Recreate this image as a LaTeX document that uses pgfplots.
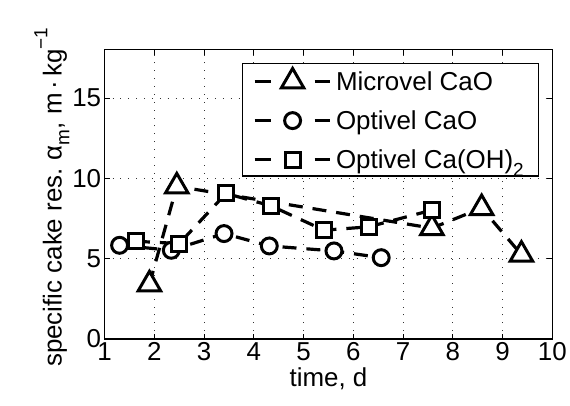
\documentclass[border=0pt]{standalone}
\usepackage{fontspec}
\setmainfont{Liberation Sans}
\usepackage{pgfplots}
\pgfplotsset{compat=1.18}

\begin{document}
\begin{tikzpicture}
\begin{axis}[
    name=ax,
    scale only axis, width=449pt, height=290pt,
    xmin=1, xmax=10, ymin=0, ymax=18,
    xtick={1,...,10}, ytick={0,5,10,15},
    font=\fontsize{26}{31}\selectfont,
    /pgf/number format/assume math mode=true,
    tick align=inside, major tick length=5pt,
    axis line style={line width=1.2pt},
    tick style={line width=1pt, black},
    grid=major,
    major grid style={black!80, line width=0.9pt, dash pattern=on 0.9pt off 7pt},
    xlabel={time, d},
    ylabel={specific cake res.\ α\raisebox{-0.3em}{\fontsize{19}{19}\selectfont m}\hspace{1pt}, m\hspace{4pt}·\hspace{4pt}kg\raisebox{0.55em}{\fontsize{19}{19}\selectfont −1}},
    every axis y label/.append style={at={(ticklabel cs:0.49)}, yshift=-4pt},
    legend cell align=left,
    legend style={at={(0.971,0.955)}, anchor=north east, draw=black,
        line width=1.2pt, inner xsep=11pt, inner ysep=5pt, row sep=17pt,
        nodes={inner xsep=4pt, inner ysep=1pt}},
    legend image code/.code={
        \draw[mark repeat=2, mark phase=2, #1, dash pattern=on 16pt off 44pt]
            plot coordinates {(0pt,0pt) (38pt,0pt) (76pt,0pt)};},
    every axis plot/.append style={black, line width=3.2pt,
        dash pattern=on 14pt off 10pt,
        mark options={solid, fill=white, line width=3pt}},
]
% Microvel CaO
\addplot[mark=triangle*, mark size=13pt] coordinates {
    (1.90,3.4) (2.45,9.5) (7.58,6.9) (8.58,8.15) (9.38,5.25)
};
% Optivel CaO
\addplot[mark=*, mark size=8pt] coordinates {
    (1.30,5.83) (2.34,5.52) (3.40,6.56) (4.31,5.79) (5.61,5.48) (6.56,5.06)
};
% Optivel Ca(OH)2
\addplot[mark=square*, mark size=7.5pt] coordinates {
    (1.63,6.08) (2.50,5.94) (3.44,9.06) (4.34,8.29) (5.41,6.77) (6.31,6.98) (7.58,8.02)
};
\legend{Microvel CaO, Optivel CaO, Optivel Ca(OH)\raisebox{-0.3em}{\fontsize{19}{19}\selectfont 2}}
\node[anchor=base west, inner sep=0pt] at ([yshift=13pt]rel axis cs:0,1)
    {x 10\raisebox{0.55em}{\fontsize{19}{19}\selectfont 9}};
\end{axis}
\path ([shift={(-105pt,-67pt)}]ax.south west) rectangle ([shift={(16pt,50pt)}]ax.north east);
\end{tikzpicture}
\end{document}
